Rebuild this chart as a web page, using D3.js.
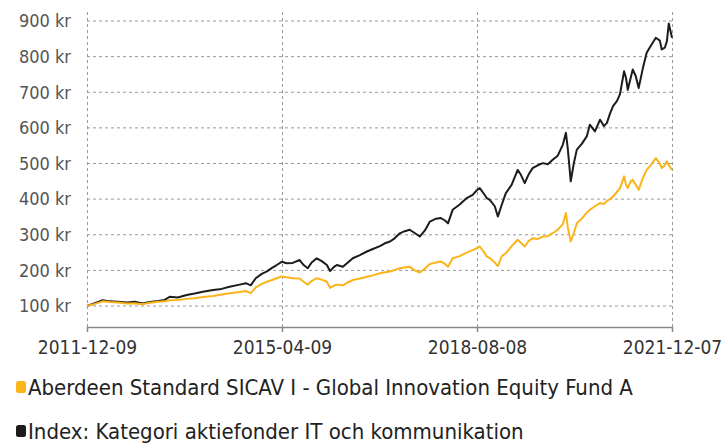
<!DOCTYPE html>
<html>
<head>
<meta charset="utf-8">
<script src="https://cdn.jsdelivr.net/npm/d3@7/dist/d3.min.js"></script>
<style>
  body { margin: 0; background: #fff; }
  svg text { font-family: "Liberation Sans Narrow", "DejaVu Sans Condensed", "Roboto", sans-serif; }
</style>
</head>
<body>
<div id="chart"></div>
<script>
// värden (kr)
let dates = ['2011-12-09','2012-01-27','2012-03-16','2012-04-29','2012-06-18','2012-08-14','2012-10-03','2012-11-16',
  '2013-01-05','2013-02-24','2013-04-07','2013-05-08','2013-06-27','2013-08-22','2013-10-11','2013-12-01',
  '2014-02-03','2014-03-28','2014-05-17','2014-07-19','2014-08-26','2014-09-26','2014-10-27','2014-12-04',
  '2015-01-05','2015-02-06','2015-03-07','2015-04-07','2015-05-08','2015-06-15','2015-07-28','2015-08-22',
  '2015-09-17','2015-10-11','2015-11-12','2015-12-13','2016-01-14','2016-02-03','2016-02-27','2016-03-16',
  '2016-04-23','2016-05-24','2016-06-24','2016-08-07','2016-09-20','2016-10-27','2016-12-10','2017-01-10',
  '2017-02-11','2017-03-12','2017-04-13','2017-05-14','2017-06-14','2017-07-15','2017-08-16','2017-09-17',
  '2017-10-18','2017-11-25','2017-12-25','2018-01-20','2018-02-08','2018-03-09','2018-04-22','2018-06-05',
  '2018-07-12','2018-08-07','2018-08-25','2018-09-20','2018-10-08','2018-10-27','2018-11-27','2018-12-16',
  '2019-01-10','2019-02-04','2019-03-12','2019-04-19','2019-05-07','2019-06-02','2019-06-27','2019-07-21',
  '2019-08-22','2019-09-23','2019-10-24','2019-11-25','2019-12-25','2020-01-26','2020-02-14','2020-02-26',
  '2020-03-15','2020-04-03','2020-04-22','2020-05-23','2020-06-23','2020-07-12','2020-08-13','2020-09-14',
  '2020-10-08','2020-10-27','2020-11-15','2020-12-04','2020-12-28','2021-01-16','2021-02-11','2021-02-23',
  '2021-03-06','2021-03-24','2021-04-06','2021-04-25','2021-05-13','2021-06-07','2021-07-02','2021-07-27',
  '2021-08-28','2021-09-22','2021-10-04','2021-10-23','2021-11-05','2021-11-17','2021-12-07'];

let fund = [100,106,113,111,110,107,108,105,
  109,112,113,116,117,120,122,125,
  128,132,136,139,142,136,152,162,
  168,173,178,183,181,178,177,168,
  160,170,178,174,168,151,157,160,
  158,166,173,177,182,186,192,195,
  197,201,206,208,210,200,194,205,
  218,222,225,218,210,234,240,250,
  257,262,267,252,239,234,222,212,
  240,248,268,286,278,267,283,290,
  288,295,296,305,314,330,361,320,
  281,305,332,345,362,370,380,389,
  386,395,400,407,420,430,464,440,
  431,450,454,440,426,458,482,495,
  515,500,487,495,506,495,482];

let index = [100,108,116,113,112,110,112,107,
  111,114,117,126,124,131,135,140,
  145,148,154,160,164,158,178,190,
  197,207,215,224,220,221,229,215,
  206,222,234,226,215,198,210,215,
  210,222,234,243,253,260,268,276,
  281,290,304,310,314,305,295,312,
  337,345,347,340,332,370,385,403,
  412,425,431,415,403,398,380,351,
  385,417,440,482,470,445,470,487,
  495,501,498,511,522,553,586,540,
  450,500,539,555,576,609,590,623,
  605,614,640,661,675,694,759,740,
  707,740,764,745,712,765,811,830,
  853,845,820,825,843,893,853];

let yTicks = [100,200,300,400,500,600,700,800,900];
let xTickDates = ['2011-12-09','2015-04-09','2018-08-08','2021-12-07'];
let legendLabels = ['Aberdeen Standard SICAV I - Global Innovation Equity Fund A',
  'Index: Kategori aktiefonder IT och kommunikation'];
let colors = ['#fbb41a', '#1c1c1c'];

let W = 726, H = 443;
let margin = {left: 87, right: 54, top: 12, bottom: 116};
let parse = d3.timeParse('%Y-%m-%d');

let svg = d3.select('#chart').append('svg').attr('width', W).attr('height', H);

let xScale = d3.scaleTime()
    .domain([parse(xTickDates[0]), parse(xTickDates[3])])
    .range([margin.left, W - margin.right]);
// 100 kr -> 306, 900 kr -> 21
let yScale = d3.scaleLinear()
    .domain([100, 900])
    .range([306, 21]);
let axisY = 327;

// stödlinjer
let grid = svg.append('g');
grid.selectAll('line.h')
    .data(yTicks)
    .enter().append('line')
    .attr('x1', xScale.range()[0]).attr('x2', xScale.range()[1])
    .attr('y1', d => yScale(d)).attr('y2', d => yScale(d))
    .attr('stroke', '#999').attr('stroke-width', 1).attr('stroke-dasharray', '3,3');
grid.selectAll('line.v')
    .data(xTickDates)
    .enter().append('line')
    .attr('x1', d => Math.round(xScale(parse(d))) + 0.5).attr('x2', d => Math.round(xScale(parse(d))) + 0.5)
    .attr('y1', margin.top).attr('y2', axisY)
    .attr('stroke', '#999').attr('stroke-width', 1).attr('stroke-dasharray', '3,3');

// y-etiketter
svg.append('g').selectAll('text')
    .data(yTicks)
    .enter().append('text')
    .attr('x', 71)
    .attr('y', d => yScale(d))
    .attr('dy', '0.35em')
    .attr('text-anchor', 'end')
    .attr('font-size', 18)
    .attr('fill', '#555')
    .text(d => d + ' kr');

// x-axel
let xAxis = d3.axisBottom(xScale)
    .tickValues(xTickDates.map(parse))
    .tickFormat(d3.timeFormat('%Y-%m-%d'))
    .tickSize(5)
    .tickSizeOuter(0)
    .tickPadding(9);
let gx = svg.append('g').attr('transform', 'translate(0,' + axisY + ')').call(xAxis);
gx.select('.domain').attr('stroke', '#888').attr('stroke-width', 1.5);
gx.selectAll('.tick line').attr('stroke', '#888').attr('stroke-width', 1.5);
gx.selectAll('.tick text').attr('font-size', 19).attr('fill', '#333')
    .attr('font-family', '"Liberation Sans Narrow", "DejaVu Sans Condensed", sans-serif');

// linjer
let line = d3.line()
    .x((d, i) => xScale(parse(dates[i])))
    .y(d => yScale(d));
svg.append('path').attr('d', line(index))
    .attr('fill', 'none').attr('stroke', colors[1]).attr('stroke-width', 2).attr('stroke-linejoin', 'round');
svg.append('path').attr('d', line(fund))
    .attr('fill', 'none').attr('stroke', colors[0]).attr('stroke-width', 2).attr('stroke-linejoin', 'round');

// förklaring
let legend = svg.append('g').selectAll('g')
    .data(legendLabels)
    .enter().append('g')
    .attr('transform', (d, i) => 'translate(16,' + (387 + i * 44) + ')');
legend.append('rect')
    .attr('x', 0).attr('y', -6).attr('width', 10).attr('height', 12).attr('rx', 2.5)
    .attr('fill', (d, i) => colors[i]);
legend.append('text')
    .attr('x', 12).attr('dy', '0.35em')
    .attr('font-size', 22).attr('fill', '#222')
    .text(d => d);
</script>
</body>
</html>
